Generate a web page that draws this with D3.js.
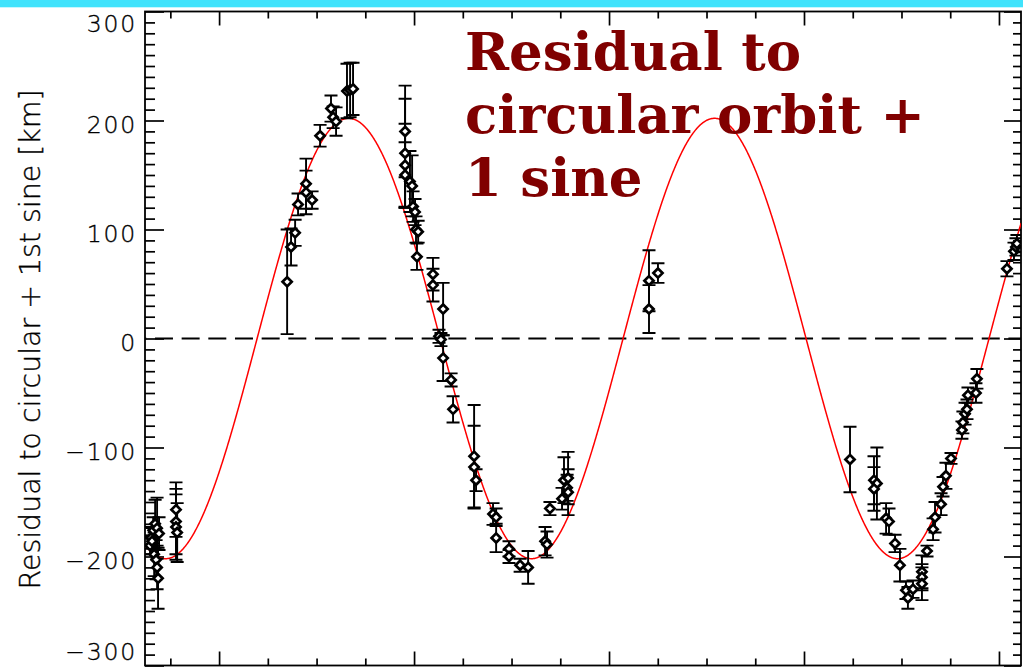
<!DOCTYPE html>
<html>
<head>
<meta charset="utf-8">
<script src="https://cdn.jsdelivr.net/npm/d3@7"></script>
<style>
  html, body { margin: 0; padding: 0; background: #fff; overflow: hidden; }
  svg { display: block; }
</style>
</head>
<body>
<svg id="chart" width="1023" height="667"></svg>
<script>
// Observation epochs (arbitrary time units), residuals [km] and 1-sigma errors [km]
const epoch = [
  -0.354, -0.349, -0.344, -0.338, -0.333, -0.328, -0.323, -0.318, -0.318, -0.313, -0.308,
  -0.221, -0.221, -0.221, -0.215,
  0.349, 0.369, 0.390, 0.405, 0.446, 0.446, 0.477, 0.518, 0.574, 0.585, 0.600, 0.656, 0.672, 0.687,
  0.954, 0.954, 0.954, 0.954, 0.979, 0.990, 0.995, 1.005, 1.010, 1.021, 1.015,
  1.097, 1.097, 1.149, 1.128, 1.138, 1.149, 1.190, 1.200,
  1.308, 1.308, 1.318, 1.405, 1.421, 1.421, 1.487, 1.487, 1.544, 1.585,
  1.672, 1.682, 1.697, 1.759, 1.769, 1.785, 1.790, 1.790,
  2.205, 2.205, 2.251,
  3.236, 3.359, 3.374, 3.359, 3.421, 3.436, 3.467, 3.492, 3.523, 3.533, 3.559,
  3.605, 3.605, 3.605, 3.631, 3.662, 3.672, 3.703, 3.713, 3.728, 3.754,
  3.810, 3.815, 3.826, 3.836, 3.841, 3.882, 3.887,
  4.041, 4.077, 4.087, 4.092
];
const residual = [
  -190, -183, -186, -176, -198, -170, -203, -174, -210, -220, -179,
  -157, -168, -173, -178,
  52, 84, 97, 123, 142, 134, 127, 186, 211, 203, 199, 227, 228, 229,
  190, 170, 159, 150, 144, 140, 121, 116, 100, 98, 75,
  59, 49, 27, 2, -1, -18, -38, -65,
  -108, -118, -130, -161, -164, -183, -193, -200, -208, -210,
  -186, -189, -156, -147, -130, -137, -128, -141,
  53, 27, 60,
  -111, -130, -133, -138, -165, -168, -188, -208, -231, -238, -230,
  -214, -219, -225, -195, -175, -164, -152, -136, -126, -110,
  -84, -77, -69, -65, -52, -50, -37,
  64, 80, 84, 87
];
const sigma = [
  8, 10, 12, 12, 20, 22, 18, 28, 20, 28, 15,
  25, 30, 30, 27,
  48, 17, 12, 10, 23, 20, 8, 10, 12, 10, 13, 25, 25, 24,
  42, 50, 38, 30, 28, 28, 14, 12, 12, 10, 12,
  15, 15, 24, 6, 6, 21, 6, 12,
  47, 38, 10, 10, 8, 13, 7, 6, 6, 15,
  13, 12, 6, 10, 21, 12, 24, 21,
  28, 22, 9,
  30, 22, 33, 20, 14, 12, 8, 15, 8, 10, 8,
  15, 12, 15, 5, 10, 14, 10, 9, 12, 5,
  8, 10, 10, 9, 7, 9, 9,
  7, 8, 8, 8
];

// Fitted sine: amplitude [km], period and rising zero crossing (time units)
const fitAmplitude = 202;
const fitPeriod = 1.877;
const fitZero = 0.195;

const xDomain = [-0.38, 4.113];
const yDomain = [-300, 300];
const yTickValues = [-300, -200, -100, 0, 100, 200, 300];
const yTickLabels = ["\u2212300", "\u2212200", "\u2212100", "0", "100", "200", "300"];
const yTitle = "Residual to circular + 1st sine [km]";
const titleLines = ["Residual to", "circular orbit +", "1 sine"];

const svg = d3.select("#chart");
const W = 1023, H = 667;
const plot = { left: 145, right: 1021, top: 11.5, bottom: 665.5 };

const x = d3.scaleLinear().domain(xDomain).range([plot.left, plot.right]);
const y = d3.scaleLinear().domain(yDomain).range([plot.bottom, plot.top]);

svg.append("rect").attr("width", W).attr("height", H).attr("fill", "#fff");
svg.append("rect").attr("x", 0).attr("y", 0).attr("width", W).attr("height", 7.3).attr("fill", "#40e3fc");

svg.append("defs").append("clipPath").attr("id", "plotClip")
  .append("rect").attr("x", plot.left).attr("y", plot.top)
  .attr("width", plot.right - plot.left).attr("height", plot.bottom - plot.top);

// Tick sets
const xMinor = d3.range(-0.25, 4.11, 0.25).filter(v => Math.abs(v - Math.round(v)) > 1e-6);
const xMajor = d3.range(0, 4.11, 1);
const yMinor = d3.range(-290, 300, 10).filter(v => v % 100 !== 0);
const yMajor = yTickValues;

function ticks(axisGen, values, size, tx, ty) {
  const g = svg.append("g").attr("transform", `translate(${tx},${ty})`)
    .call(axisGen.tickValues(values).tickSize(size).tickSizeOuter(0).tickFormat(""));
  g.select(".domain").remove();
  g.selectAll(".tick line").attr("stroke", "#000").attr("stroke-width", 1.7);
  g.selectAll(".tick text").remove();
  return g;
}

ticks(d3.axisTop(x), xMajor, -14, 0, plot.top);
ticks(d3.axisTop(x), xMinor, -7, 0, plot.top);
ticks(d3.axisBottom(x), xMajor, -14, 0, plot.bottom);
ticks(d3.axisBottom(x), xMinor, -7, 0, plot.bottom);
ticks(d3.axisLeft(y), yMajor, -19, plot.left, 0);
ticks(d3.axisLeft(y), yMinor, -10, plot.left, 0);
ticks(d3.axisRight(y), yMajor, -17, plot.right, 0);
ticks(d3.axisRight(y), yMinor, -8, plot.right, 0);

// Frame
svg.append("rect")
  .attr("x", plot.left).attr("y", plot.top)
  .attr("width", plot.right - plot.left).attr("height", plot.bottom - plot.top)
  .attr("fill", "none").attr("stroke", "#000").attr("stroke-width", 1.8);

// Y tick labels (kept inside the window at both ends of the axis)
svg.append("g").selectAll("text").data(yTickValues).join("text")
  .attr("x", 137)
  .attr("y", v => Math.max(32, Math.min(660, y(v) + 12)))
  .attr("text-anchor", "end")
  .attr("font-family", "'DejaVu Sans ExtraLight', 'DejaVu Sans', sans-serif")
  .attr("font-weight", 300)
  .attr("font-size", 23.5)
  .attr("letter-spacing", 1.8)
  .attr("fill", "#000")
  .attr("stroke", "#000")
  .attr("stroke-width", 0.35)
  .text((v, i) => yTickLabels[i]);

// Y axis title
svg.append("text")
  .attr("transform", `translate(40,339.5) rotate(-90)`)
  .attr("text-anchor", "middle")
  .attr("font-family", "'DejaVu Sans ExtraLight', 'DejaVu Sans', sans-serif")
  .attr("font-weight", 300)
  .attr("font-size", 28)
  .attr("textLength", 500)
  .attr("lengthAdjust", "spacingAndGlyphs")
  .attr("fill", "#000")
  .attr("stroke", "#000")
  .attr("stroke-width", 0.35)
  .text(yTitle);

const inner = svg.append("g").attr("clip-path", "url(#plotClip)");

// Zero line
inner.append("line")
  .attr("x1", x(xDomain[0])).attr("x2", x(xDomain[1]))
  .attr("y1", y(0)).attr("y2", y(0))
  .attr("stroke", "#000").attr("stroke-width", 1.8)
  .attr("stroke-dasharray", "18 8.67").attr("stroke-dashoffset", 16.7);

// Sine fit
const fitX = d3.range(xDomain[0], xDomain[1] + 0.002, 0.002);
const line = d3.line()
  .x(t => x(t))
  .y(t => y(fitAmplitude * Math.sin(2 * Math.PI * (t - fitZero) / fitPeriod)));
inner.append("path").datum(fitX)
  .attr("d", line).attr("fill", "none")
  .attr("stroke", "#ff0000").attr("stroke-width", 1.5);

// Data with error bars
const pts = epoch.map((t, i) => ({ t, r: residual[i], e: sigma[i] }));
const cap = 6.5;
const eb = inner.append("g").attr("stroke", "#000").attr("stroke-width", 1.9).attr("fill", "none");
eb.selectAll("path").data(pts).join("path")
  .attr("d", d => {
    const cx = x(d.t), y1 = y(d.r + d.e), y2 = y(d.r - d.e);
    return `M${cx},${y1}V${y2}M${cx - cap},${y1}H${cx + cap}M${cx - cap},${y2}H${cx + cap}`;
  });

const diamond = {
  draw(ctx, size) {
    const r = Math.sqrt(size) / 2;
    ctx.moveTo(0, -r); ctx.lineTo(r, 0); ctx.lineTo(0, r); ctx.lineTo(-r, 0); ctx.closePath();
  }
};
inner.append("g").selectAll("path").data(pts).join("path")
  .attr("transform", d => `translate(${x(d.t)},${y(d.r)})`)
  .attr("d", d3.symbol().type(diamond).size(84))
  .attr("fill", "#fff").attr("stroke", "#000").attr("stroke-width", 2.7);

// Title
const title = svg.append("text")
  .attr("font-family", "DejaVu Serif, serif")
  .attr("font-weight", "bold")
  .attr("font-size", 53)
  .attr("fill", "#800000");
titleLines.forEach((s, i) => {
  title.append("tspan").attr("x", 465).attr("y", 70 + i * 63).text(s);
});
</script>
</body>
</html>
